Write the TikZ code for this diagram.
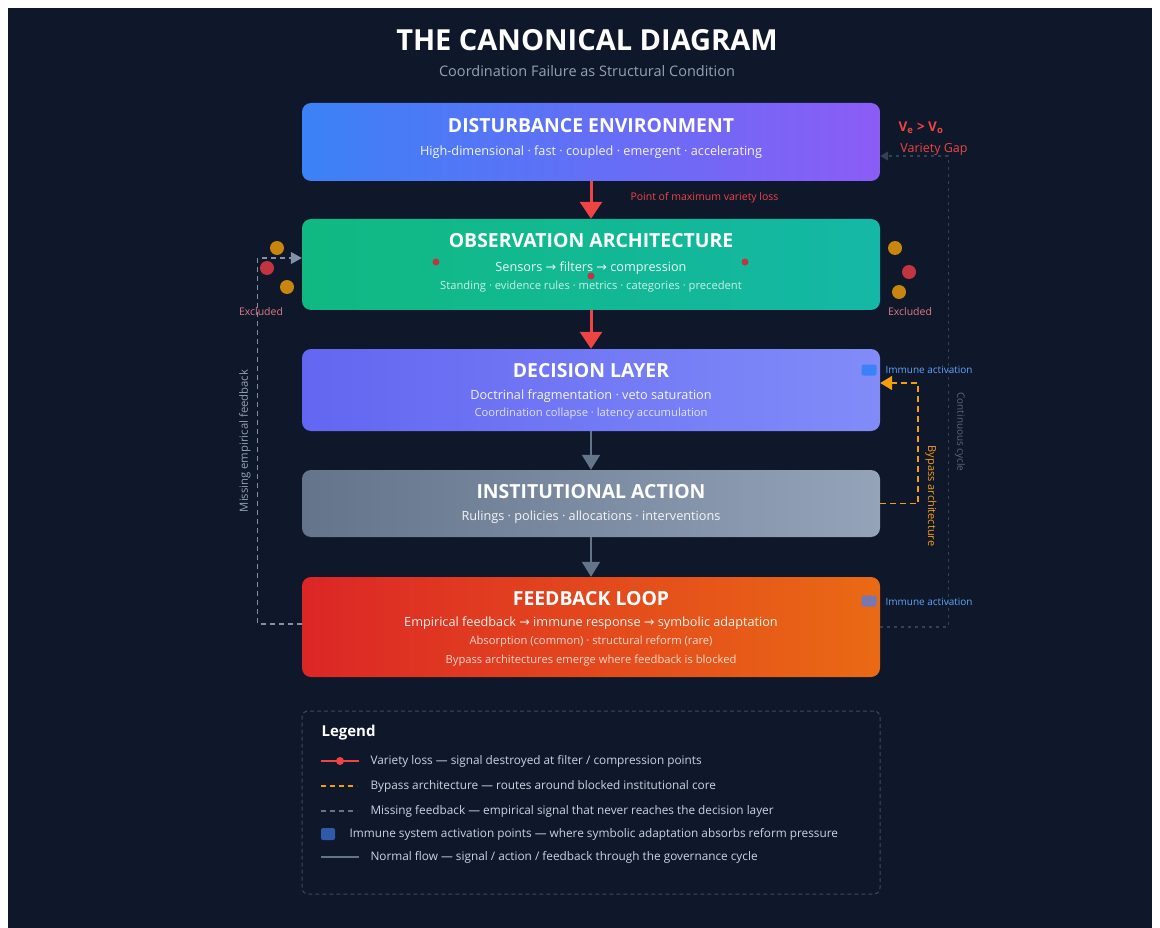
\documentclass[tikz,border=0pt]{standalone}
\usepackage{fontspec}
\setmainfont{Open Sans}
\newfontfamily\symfont{DejaVu Sans}
\usetikzlibrary{arrows.meta,positioning,calc}
\definecolor{cBg}{HTML}{0F172A}
\definecolor{cInk}{HTML}{CBD5E1}
\definecolor{cMuted}{HTML}{94A3B8}
\definecolor{cRed}{HTML}{EF4444}
\definecolor{cAmber}{HTML}{F59E0B}
\definecolor{cGray}{HTML}{64748B}
\definecolor{cDim}{HTML}{334155}
\definecolor{cLegLine}{HTML}{3D4A5E}
\definecolor{cDash}{HTML}{8391A7}
\definecolor{cBlueA}{HTML}{3B82F6}
\definecolor{cPurpA}{HTML}{8B5CF6}
\definecolor{cGreenA}{HTML}{10B981}
\definecolor{cTealA}{HTML}{14B8A6}
\definecolor{cIndA}{HTML}{6366F1}
\definecolor{cIndB}{HTML}{818CF8}
\definecolor{cSlateA}{HTML}{64748B}
\definecolor{cSlateB}{HTML}{94A3B8}
\definecolor{cRedA}{HTML}{DC2626}
\definecolor{cOrgA}{HTML}{EA6A14}
\definecolor{cDotO}{HTML}{C8860F}
\definecolor{cDotR}{HTML}{C2343F}
\definecolor{cPink}{HTML}{E07A85}
\definecolor{cImmune}{HTML}{60A5FA}
\definecolor{cImmSq}{HTML}{3B82F6}
\definecolor{cImmSqB}{HTML}{7578B2}
\definecolor{cLegSq}{HTML}{2D5BAA}
\newcommand{\arr}{{\symfont\char"2192}}
\tikzset{
  layer/.style 2 args={left color=#1,right color=#2,draw=none,rounded corners=9pt,minimum width=578pt,inner sep=0pt},
  ttl/.style={font=\fontsize{19.4}{22}\selectfont\bfseries,text=white},
  sub/.style={font=\fontsize{12.7}{14}\selectfont,text=white,text opacity=0.92},
  subsm/.style={font=\fontsize{11.2}{13}\selectfont,text=white,text opacity=0.78},
  redarr/.style={-{Triangle[length=17pt,width=22pt]},line width=3pt,color=cRed},
  grayarr/.style={-{Triangle[length=15pt,width=18pt]},line width=2pt,color=cGray},
  dot/.style={circle,fill=#1,inner sep=0pt,minimum size=14pt},
  rdot/.style={circle,fill=cDotR,inner sep=0pt,minimum size=7pt},
  note/.style={font=\fontsize{10.5}{12}\selectfont,text=#1},
  immsq/.style={fill=#1,rounded corners=2pt,inner sep=0pt,minimum width=15pt,minimum height=11pt},
  legtxt/.style={font=\fontsize{11.8}{13}\selectfont,text=cInk,anchor=west},
}
\begin{document}
\begin{tikzpicture}[x=1pt,y=-1pt]
  \useasboundingbox (0,0) rectangle (1160,928);
  \fill[white] (0,0) rectangle (1160,928);
  \fill[cBg] (8,8) rectangle (1152,928);
  % heading
  \node[font=\fontsize{29}{32}\selectfont\bfseries,text=white] (title) at (587,40) {THE CANONICAL DIAGRAM};
  \node[font=\fontsize{14.5}{16}\selectfont,text=cMuted] (subtitle) at (587,71) {Coordination Failure as Structural Condition};
  % layers
  \node[layer={cBlueA}{cPurpA},minimum height=78pt] (dist) at (591,142) {};
  \node[ttl] (distT) at (591,126) {DISTURBANCE ENVIRONMENT};
  \node[sub] (distS) at (591,152) {High-dimensional · fast · coupled · emergent · accelerating};
  \node[layer={cGreenA}{cTealA},minimum height=91pt] (obs) at (591,264.5) {};
  \node[ttl] (obsT) at (591,241) {OBSERVATION ARCHITECTURE};
  \node[sub] (obsS) at (591,268) {Sensors \arr\ filters \arr\ compression};
  \node[subsm] (obsR) at (591,287) {Standing · evidence rules · metrics · categories · precedent};
  \node[layer={cIndA}{cIndB},minimum height=82pt] (dec) at (591,390) {};
  \node[ttl] (decT) at (591,371) {DECISION LAYER};
  \node[sub] (decS) at (591,396) {Doctrinal fragmentation · veto saturation};
  \node[subsm] (decR) at (591,414) {Coordination collapse · latency accumulation};
  \node[layer={cSlateA}{cSlateB},minimum height=67pt] (inst) at (591,503.5) {};
  \node[ttl] (instT) at (591,492) {INSTITUTIONAL ACTION};
  \node[sub] (instS) at (591,517) {Rulings · policies · allocations · interventions};
  \node[layer={cRedA}{cOrgA},minimum height=100pt] (fb) at (591,627) {};
  \node[ttl] (fbT) at (591,599) {FEEDBACK LOOP};
  \node[sub] (fbS) at (591,623) {Empirical feedback \arr\ immune response \arr\ symbolic adaptation};
  \node[subsm] (fbR) at (591,642) {Absorption (common) · structural reform (rare)};
  \node[subsm] (fbQ) at (591,661) {Bypass architectures emerge where feedback is blocked};
  % variety loss points
  \node[rdot] (vl1) at (436,262) {};
  \node[rdot] (vl2) at (591,276) {};
  \node[rdot] (vl3) at (745,262) {};
  \node[dot=cDotO] (exL1) at (277,248) {};
  \node[dot=cDotR] (exL2) at (267,268) {};
  \node[dot=cDotO] (exL3) at (287,287) {};
  \node[note=cPink] (exL) at (261,312) {Excluded};
  \node[dot=cDotO] (exR1) at (895,248) {};
  \node[dot=cDotR] (exR2) at (909,272) {};
  \node[dot=cDotO] (exR3) at (899,292) {};
  \node[note=cPink] (exR) at (910,312) {Excluded};
  % flow
  \draw[redarr] (dist.south) -- (obs.north);
  \draw[redarr] (obs.south) -- (dec.north);
  \draw[grayarr] (dec.south) -- (inst.north);
  \draw[grayarr] (inst.south) -- (fb.north);
  \node[note=cRed,anchor=west] (maxloss) at (627,198) {Point of maximum variety loss};
  % variety gap
  \node[font=\fontsize{13.5}{15}\selectfont\bfseries,text=cRed] (vgap) at (921,128) {V\textsubscript{e} > V\textsubscript{o}};
  \node[font=\fontsize{12.5}{14}\selectfont,text=cRed] (vgapT) at (934,149) {Variety Gap};
  % side loops
  \draw[cDash,line width=1.2pt,dash pattern=on 5pt off 4pt,-{Triangle[length=11pt,width=12pt]}]
    ([yshift=3pt]fb.west) -- ++(-44,0) |- ([yshift=6.5pt]obs.west);
  \node[font=\fontsize{11.3}{13}\selectfont,text=cMuted,rotate=90] (misslbl) at (245,441) {Missing empirical feedback};
  \draw[cDim,line width=1.2pt,dash pattern=on 3pt off 4pt,-{Triangle[length=8pt,width=9pt]}]
    (fb.east) -- ++(68,0) |- ([yshift=-14pt]dist.east);
  \node[font=\fontsize{10}{12}\selectfont,text=cDim!80!white,rotate=-90] (cyclbl) at (960,432) {Continuous cycle};
  \draw[cAmber,line width=1.8pt,dash pattern=on 6pt off 4pt,-{Triangle[length=12pt,width=14pt]}]
    (inst.east) -- ++(38,0) |- ([yshift=7pt]dec.east);
  \node[font=\fontsize{11}{13}\selectfont,text=cAmber,rotate=-90] (bylbl) at (931,496) {Bypass architecture};
  % immune activation
  \node[immsq=cImmSq] (imm1) at (869,370) {};
  \node[note=cImmune,anchor=west,font=\fontsize{10}{12}\selectfont] (imm1T) at (882,370) {Immune activation};
  \node[immsq=cImmSqB] (imm2) at (869,601) {};
  \node[note=cImmune,anchor=west,font=\fontsize{10}{12}\selectfont] (imm2T) at (882,602) {Immune activation};
  % legend
  \node[draw=cLegLine,line width=1pt,dash pattern=on 4pt off 3pt,rounded corners=6pt,minimum width=578pt,minimum height=183pt] (leg) at (591,802.5) {};
  \node[font=\fontsize{15}{17}\selectfont\bfseries,text=white,anchor=west] (legT) at (318,733) {Legend};
  \draw[cRed,line width=2pt] (321,761) -- (359,761);
  \fill[cRed] (340,761) circle (4pt);
  \node[legtxt] (leg1) at (367,761) {Variety loss — signal destroyed at filter / compression points};
  \draw[cAmber,line width=1.6pt,dash pattern=on 5pt off 4pt] (321,786) -- (357,786);
  \node[legtxt] (leg2) at (367,786) {Bypass architecture — routes around blocked institutional core};
  \draw[cGray,line width=1.6pt,dash pattern=on 5pt off 4pt] (321,811) -- (357,811);
  \node[legtxt] (leg3) at (367,811) {Missing feedback — empirical signal that never reaches the decision layer};
  \node[fill=cLegSq,rounded corners=2pt,inner sep=0pt,minimum width=14pt,minimum height=12pt] (legsq) at (328,834) {};
  \node[legtxt] (leg4) at (346,834) {Immune system activation points — where symbolic adaptation absorbs reform pressure};
  \draw[cGray,line width=2pt] (321,857) -- (359,857);
  \node[legtxt] (leg5) at (367,857) {Normal flow — signal / action / feedback through the governance cycle};
\end{tikzpicture}
\end{document}
